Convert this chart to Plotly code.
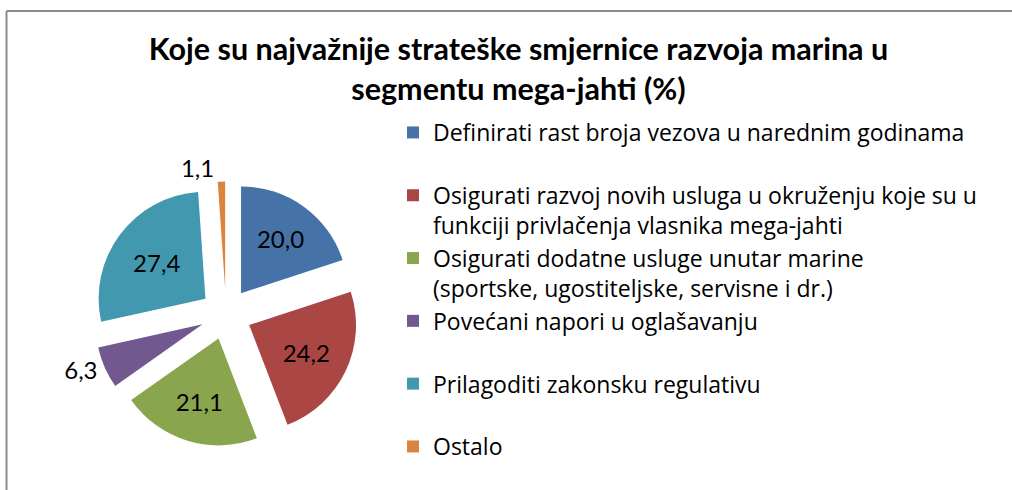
import plotly.graph_objects as go

labels = [
    "Definirati rast broja vezova u narednim godinama",
    "Osigurati razvoj novih usluga u okruženju koje su u<br>funkciji privlačenja vlasnika mega-jahti",
    "Osigurati dodatne usluge unutar marine<br>(sportske, ugostiteljske, servisne i dr.)",
    "Povećani napori u oglašavanju",
    "Prilagoditi zakonsku regulativu",
    "Ostalo",
]
values = [20.0, 24.2, 21.1, 6.3, 27.4, 1.1]
colors = ["#4572A7", "#AA4643", "#89A54E", "#71588F", "#4198AF", "#DB843D"]
text_positions = ["inside", "inside", "inside", "outside", "inside", "outside"]

# pad single-line legend entries (except the last) to two lines so spacing matches
legend_labels = [
    l if ("<br>" in l or i == len(labels) - 1) else l + "<br> "
    for i, l in enumerate(labels)
]

FONT = "Lato, sans-serif"
LEGEND_FONT = "Open Sans, Lato, sans-serif"

fig = go.Figure(
    go.Pie(
        labels=legend_labels,
        values=values,
        sort=False,
        direction="clockwise",
        rotation=0,
        pull=0.24,
        marker=dict(colors=colors, line=dict(width=0)),
        texttemplate="%{value:.1f}",
        textposition=text_positions,
        insidetextorientation="horizontal",
        textfont=dict(family=FONT, size=24, color="black"),
        hoverinfo="label+value",
        domain=dict(x=[93.5 / 1012, 358.5 / 1012], y=[0.0878, 0.6306]),
    )
)

BORDER = dict(color="#8c8c8c", width=2)

fig.update_layout(
    width=1012,
    height=490,
    margin=dict(l=0, r=0, t=0, b=0, autoexpand=False),
    paper_bgcolor="white",
    separators=",.",
    font=dict(family=FONT, color="black"),
    title=dict(
        text="<b>Koje su najvažnije strateške smjernice razvoja marina u<br>segmentu mega-jahti (%)</b>",
        x=518.5 / 1012,
        xanchor="center",
        y=1 - 60 / 490,
        yanchor="middle",
        font=dict(family=FONT, size=30.5, color="black"),
    ),
    legend=dict(
        x=393 / 1012,
        xanchor="left",
        y=1 - 111 / 490,
        yanchor="top",
        valign="top",
        font=dict(family=LEGEND_FONT, size=23, color="black"),
        bgcolor="rgba(0,0,0,0)",
        traceorder="normal",
    ),
    shapes=[
        dict(type="line", xref="paper", yref="paper",
             x0=6.5 / 1012, x1=6.5 / 1012, y0=0, y1=1 - 11 / 490,
             line=BORDER, layer="below"),
        dict(type="line", xref="paper", yref="paper",
             x0=6.5 / 1012, x1=1, y0=1 - 11 / 490, y1=1 - 11 / 490,
             line=BORDER, layer="below"),
    ],
)

fig.write_html(
    "out.html",
    config={"displayModeBar": False},
    post_script="document.body.style.margin='0';document.body.style.overflow='hidden';",
)
